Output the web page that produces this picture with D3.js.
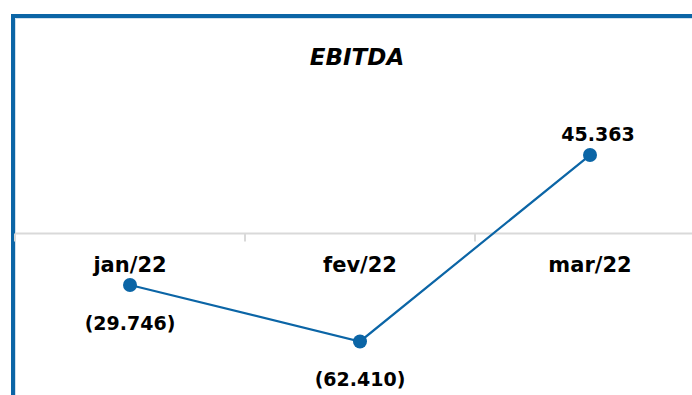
<!DOCTYPE html>
<html>
  <head>
    <meta charset="utf-8">
    <title>EBITDA</title>
    <script src="https://cdn.jsdelivr.net/npm/d3@7"></script>
    <style>
      body { margin: 0; background: #fff; }
      text { font-family: "DejaVu Sans", sans-serif; font-weight: bold; fill: #000; }
    </style>
  </head>
  <body>
    <svg id="chart" width="692" height="395"></svg>
    <script>
      const months = ["jan/22", "fev/22", "mar/22"];
      const ebitda = [-29746, -62410, 45363];

      const svg = d3.select("#chart");
      const blue = "#0b65a6";

      // frame (only top and left edges are visible in the crop)
      svg.append("rect")
        .attr("x", 13).attr("y", 16)
        .attr("width", 800).attr("height", 500)
        .attr("fill", "none")
        .attr("stroke", blue)
        .attr("stroke-width", 4);
      svg.append("path")
        .attr("d", "M15.5,400V18.5H700")
        .attr("fill", "none")
        .attr("stroke", "#cfe0ee")
        .attr("stroke-width", 1);

      svg.append("text")
        .attr("x", 357).attr("y", 65)
        .attr("text-anchor", "middle")
        .style("font-style", "italic")
        .style("font-size", "23px")
        .text("EBITDA");

      const x = d3.scaleBand().domain(months).range([15, 705]);
      const y = d3.scaleLinear().domain([-70000, 50000]).range([354.6, 147]);

      // zero axis with category ticks
      const axis = svg.append("g");
      axis.append("line")
        .attr("x1", 15).attr("x2", 692)
        .attr("y1", y(0)).attr("y2", y(0))
        .attr("stroke", "#d9d9d9").attr("stroke-width", 2);
      axis.selectAll("line.tick")
        .data(months)
        .enter()
        .append("line")
        .attr("class", "tick")
        .attr("x1", d => x(d)).attr("x2", d => x(d))
        .attr("y1", y(0)).attr("y2", y(0) + 8)
        .attr("stroke", "#d9d9d9").attr("stroke-width", 2);
      axis.selectAll("text")
        .data(months)
        .enter()
        .append("text")
        .attr("x", d => x(d) + x.bandwidth() / 2)
        .attr("y", y(0) + 38)
        .attr("text-anchor", "middle")
        .style("font-size", "21px")
        .text(d => d);

      const pts = months.map((m, i) => ({ m, v: ebitda[i] }));
      const cx = d => x(d.m) + x.bandwidth() / 2;

      svg.append("path")
        .datum(pts)
        .attr("fill", "none")
        .attr("stroke", blue)
        .attr("stroke-width", 2.2)
        .attr("d", d3.line().x(cx).y(d => y(d.v)));

      svg.selectAll("circle")
        .data(pts)
        .enter()
        .append("circle")
        .attr("cx", cx)
        .attr("cy", d => y(d.v))
        .attr("r", 7)
        .attr("fill", blue);

      const fmt = v => {
        const s = d3.format(",")(Math.abs(v)).replace(/,/g, ".");
        return v < 0 ? "(" + s + ")" : s;
      };
      svg.selectAll("text.val")
        .data(pts)
        .enter()
        .append("text")
        .attr("class", "val")
        .attr("x", d => cx(d) + (d.v < 0 ? 0 : 8))
        .attr("y", d => d.v < 0 ? y(d.v) + 45 : y(d.v) - 14)
        .attr("text-anchor", "middle")
        .style("font-size", "19px")
        .text(d => fmt(d.v));
    </script>
  </body>
</html>
